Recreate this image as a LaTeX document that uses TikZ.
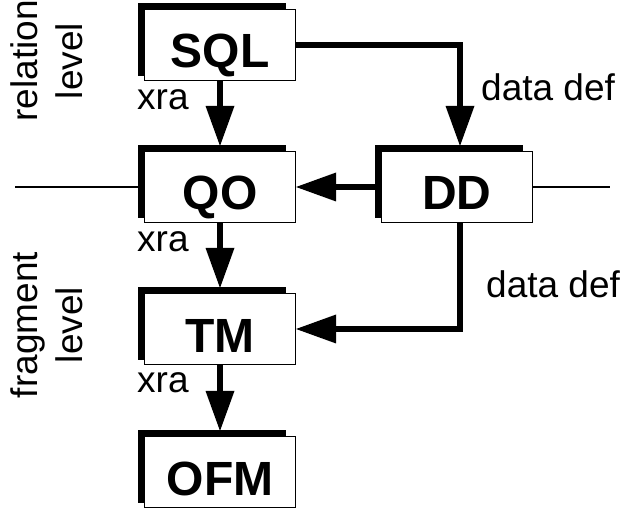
\documentclass[tikz,border=0pt]{standalone}
\usepackage{fontspec}
\setmainfont{Liberation Sans}
\usetikzlibrary{arrows.meta,shadows,positioning}

\begin{document}
\begin{tikzpicture}[
    x=1pt, y=1pt,
    every node/.style={font=\fontsize{37}{45}\selectfont},
    module/.style={
        draw,
        line width=1.2pt,
        fill=white,
        minimum width=151pt,
        minimum height=71pt,
        inner sep=0pt,
        text height=46pt,
        text depth=0pt,
        font=\bfseries\fontsize{48}{48}\selectfont,
        general shadow={draw=black, line width=8pt, shadow scale=0.93,
            shadow xshift=-9pt, shadow yshift=6pt}
    },
    flow/.style={
        line width=6.5pt,
        -{Triangle[length=40pt, width=29pt, line width=0pt]}
    },
    tag/.style={inner sep=0pt, anchor=mid west}
]
\useasboundingbox (0, 0) rectangle (621, 509);

% Level separator
\coordinate (sepL) at (15, 322);
\coordinate (sepR) at (610, 322);

% Modules
\node[module] (sql) at (220, 464) {SQL};
\node[module] (qo)  at (220, 322) {QO};
\node[module] (dd)  at (457, 322) {DD};
\node[module] (tm)  at (220, 180) {TM};
\node[module] (ofm) at (220, 37)  {OFM};

\draw[line width=1.2pt] (sepL) -- (qo.west);
\draw[line width=1.2pt] (dd.east) -- (sepR);

% Query path
\draw[flow] (sql.south) -- ([yshift=5pt]qo.north);
\draw[flow] (qo.south) -- ([yshift=5pt]tm.north);
\draw[flow] (tm.south) -- ([yshift=5pt]ofm.north);

% Data definitions
\draw[flow] (sql.east) -| ([xshift=3pt, yshift=5pt]dd.north);
\draw[flow] (dd.west) -- (qo.east);
\draw[flow] ([xshift=3pt]dd.south) |- (tm.east);

% Labels
\node[tag] (xra1) at (137, 402) {xra};
\node[tag] (xra2) at (137, 260) {xra};
\node[tag] (xra3) at (137, 119) {xra};
\node[tag] (def1) at (481, 411) {data def};
\node[tag] (def2) at (486, 214) {data def};

\node[rotate=90, align=center] (rel) at (47, 448) {relation\\level};
\node[rotate=90, align=center] (frag) at (47, 184) {fragment\\level};

\end{tikzpicture}
\end{document}
